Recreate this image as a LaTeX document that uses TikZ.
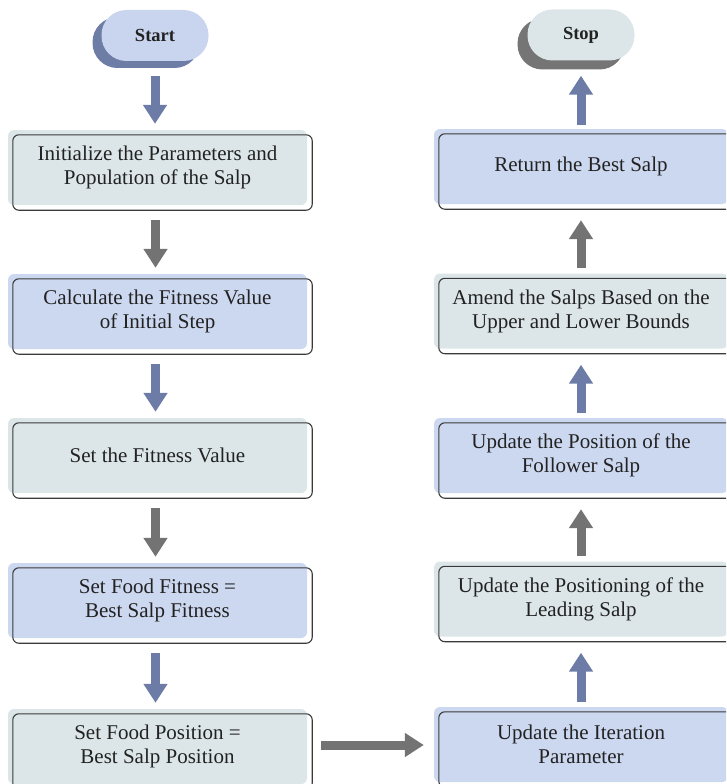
\documentclass[tikz,border=0pt]{standalone}
\usepackage{fontspec}
\setmainfont{Liberation Serif}
\usetikzlibrary{arrows.meta,shadows}
\definecolor{boxblue}{HTML}{CCD8F0}
\definecolor{boxteal}{HTML}{DCE6E8}
\definecolor{arrblue}{HTML}{6C7CA7}
\definecolor{arrgray}{HTML}{737373}
\definecolor{startfill}{HTML}{C9D5EF}
\definecolor{startshadow}{HTML}{6E7DA5}
\definecolor{stopfill}{HTML}{DCE6E9}
\definecolor{stopshadow}{HTML}{757575}
\definecolor{edgecol}{HTML}{3A3A3A}
\definecolor{txt}{HTML}{222222}
\begin{document}
\begin{tikzpicture}[x=1pt,y=-1pt,
  procbox/.style={rectangle, rounded corners=6pt, inner sep=0pt, align=center,
    font=\fontsize{21}{24}\selectfont, text=txt},
  lbox/.style={procbox, minimum width=299pt, minimum height=75pt},
  rbox/.style={procbox, minimum width=294pt, minimum height=75pt},
  bluefill/.style={fill=boxblue},
  tealfill/.style={fill=boxteal},
  term/.style={rectangle, rounded corners=25pt, minimum width=107pt, minimum height=51pt,
    inner sep=0pt, font=\fontsize{18.5}{22}\selectfont\bfseries, text=txt},
  flowarrow/.style={line width=9pt, -{Triangle[width=23pt,length=19pt]}},
  downarrow/.style={flowarrow, shorten <=15pt, shorten >=6pt},
  uparrow/.style={flowarrow, shorten <=5pt, shorten >=16pt},
  outline/.style={draw=edgecol, line width=1.1pt, rounded corners=6pt}
]
\useasboundingbox (0,0) rectangle (726,784);
\clip (0,0) rectangle (726,784);

% terminals
\node[term, fill=startfill, general shadow={fill=startshadow, shadow xshift=-9pt, shadow yshift=-7pt}]
  (start) at (155,35.5) {Start};
\node[term, fill=stopfill, general shadow={fill=stopshadow, shadow xshift=-10pt, shadow yshift=-9pt}]
  (stop) at (581,35) {Stop};

% left column
\node[lbox, tealfill] (b1) at (157.5,167.5) {Initialize the Parameters and\\Population of the Salp};
\node[lbox, bluefill] (b2) at (157.5,311.5) {Calculate the Fitness Value\\of Initial Step};
\node[lbox, tealfill] (b3) at (157.5,455.5) {Set the Fitness Value};
\node[lbox, bluefill] (b4) at (157.5,600.5) {Set Food Fitness =\\Best Salp Fitness};
\node[lbox, tealfill] (b5) at (157.5,746.5) {Set Food Position =\\Best Salp Position};

% right column
\node[rbox, bluefill] (r5) at (581,166.5) {Return the Best Salp};
\node[rbox, tealfill] (r4) at (581,311) {Amend the Salps Based on the\\Upper and Lower Bounds};
\node[rbox, bluefill] (r3) at (581,455.5) {Update the Position of the\\Follower Salp};
\node[rbox, tealfill] (r2) at (581,599) {Update the Positioning of the\\Leading Salp};
\node[rbox, bluefill] (r1) at (581,744.5) {Update the Iteration\\Parameter};

% offset outlines
\foreach \n in {b1,b2,b3,b4,b5,r1,r2,r3,r4,r5}
  \draw[outline] ([shift={(5,5)}]\n.north west) rectangle ([shift={(5,5)}]\n.south east);

% connectors
\draw[downarrow, arrblue] (start.south) -- (start.south |- b1.north);
\draw[downarrow, arrgray] ([xshift=-2pt]b1.south) -- ([xshift=-2pt]b2.north);
\draw[downarrow, arrblue] ([xshift=-2pt]b2.south) -- ([xshift=-2pt]b3.north);
\draw[downarrow, arrgray] ([xshift=-2pt]b3.south) -- ([xshift=-2pt]b4.north);
\draw[downarrow, arrblue] ([xshift=-2pt]b4.south) -- ([xshift=-2pt]b5.north);
\draw[flowarrow, arrgray, shorten <=14pt, shorten >=10pt] ([yshift=1.5pt]b5.east) -- ([yshift=1.5pt]b5.east -| r1.west);
\draw[uparrow, arrblue] (r1.north) -- (r2.south);
\draw[uparrow, arrgray] (r2.north) -- (r3.south);
\draw[uparrow, arrblue] (r3.north) -- (r4.south);
\draw[uparrow, arrgray] (r4.north) -- (r5.south);
\draw[flowarrow, arrblue, shorten <=4pt, shorten >=15pt] (r5.north) -- (stop.south);
\end{tikzpicture}
\end{document}
